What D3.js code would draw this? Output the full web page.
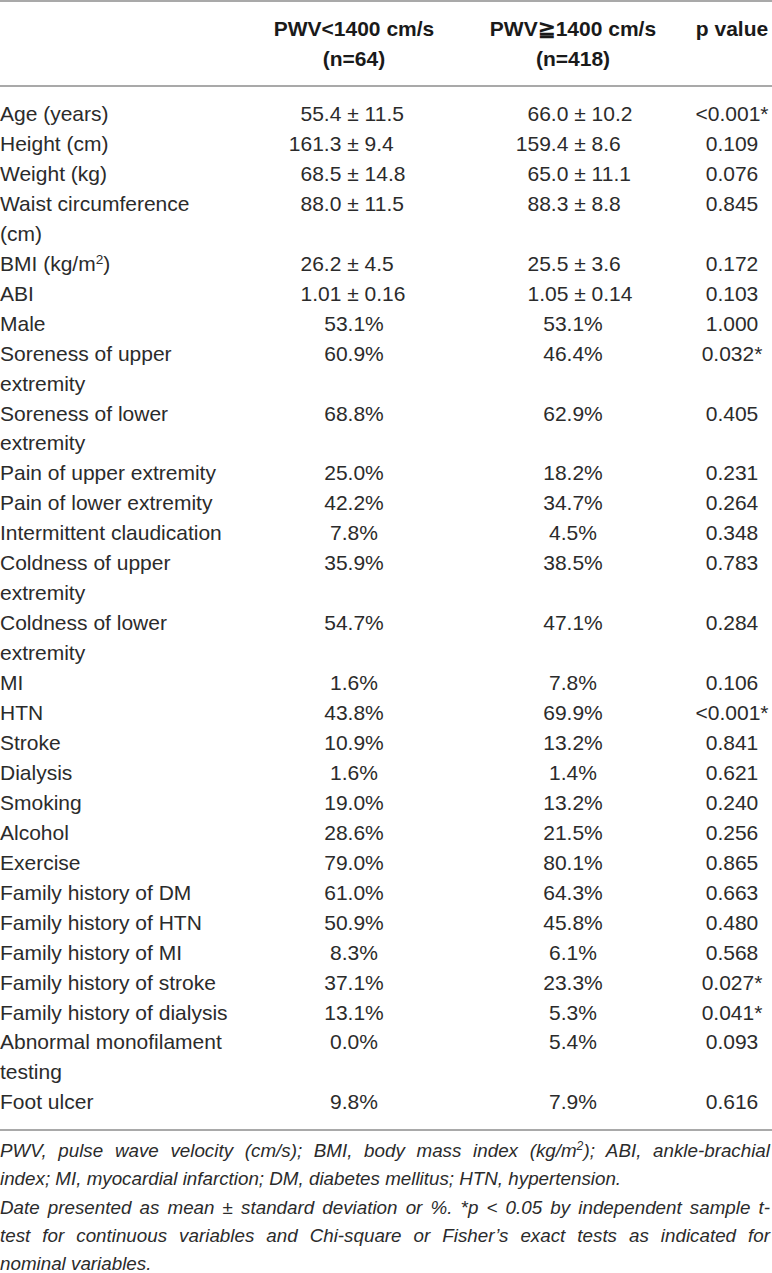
<!DOCTYPE html>
<html>
<head>
<meta charset="utf-8">
<script src="https://cdn.jsdelivr.net/npm/d3@7"></script>
<style>
  html, body { margin: 0; padding: 0; background: #fff; }
  svg text { font-family: "Liberation Sans", Arial, Helvetica, sans-serif; fill: #2b2b2b; }
</style>
</head>
<body>
<svg id="table"></svg>
<script>
// table content, "^x" marks a superscript character
var headers = [[""], ["PWV<1400 cm/s", "(n=64)"], ["PWV≧1400 cm/s", "(n=418)"], ["p value"]];

var labels = [
  "Age (years)", "Height (cm)", "Weight (kg)", "Waist circumference (cm)", "BMI (kg/m^2)", "ABI",
  "Male", "Soreness of upper extremity", "Soreness of lower extremity", "Pain of upper extremity",
  "Pain of lower extremity", "Intermittent claudication", "Coldness of upper extremity",
  "Coldness of lower extremity", "MI", "HTN", "Stroke", "Dialysis", "Smoking", "Alcohol", "Exercise",
  "Family history of DM", "Family history of HTN", "Family history of MI", "Family history of stroke",
  "Family history of dialysis", "Abnormal monofilament testing", "Foot ulcer"
];

var lowGroup = [
  "55.4 ± 11.5", "161.3 ± 9.4", "68.5 ± 14.8", "88.0 ± 11.5", "26.2 ± 4.5", "1.01 ± 0.16",
  "53.1%", "60.9%", "68.8%", "25.0%", "42.2%", "7.8%", "35.9%", "54.7%", "1.6%", "43.8%", "10.9%",
  "1.6%", "19.0%", "28.6%", "79.0%", "61.0%", "50.9%", "8.3%", "37.1%", "13.1%", "0.0%", "9.8%"
];

var highGroup = [
  "66.0 ± 10.2", "159.4 ± 8.6", "65.0 ± 11.1", "88.3 ± 8.8", "25.5 ± 3.6", "1.05 ± 0.14",
  "53.1%", "46.4%", "62.9%", "18.2%", "34.7%", "4.5%", "38.5%", "47.1%", "7.8%", "69.9%", "13.2%",
  "1.4%", "13.2%", "21.5%", "80.1%", "64.3%", "45.8%", "6.1%", "23.3%", "5.3%", "5.4%", "7.9%"
];

var pValues = [
  "<0.001*", "0.109", "0.076", "0.845", "0.172", "0.103", "1.000", "0.032*", "0.405", "0.231",
  "0.264", "0.348", "0.783", "0.284", "0.106", "<0.001*", "0.841", "0.621", "0.240", "0.256",
  "0.865", "0.663", "0.480", "0.568", "0.027*", "0.041*", "0.093", "0.616"
];

// footnote lines, true = justified
var noteLines = [
  "PWV, pulse wave velocity (cm/s); BMI, body mass index (kg/m^2); ABI, ankle-brachial",
  "index; MI, myocardial infarction; DM, diabetes mellitus; HTN, hypertension.",
  "Date presented as mean ± standard deviation or %. *p < 0.05 by independent sample t-",
  "test for continuous variables and Chi-square or Fisher’s exact tests as indicated for",
  "nominal variables."
];
var noteJustify = [true, false, true, true, false];

var width = 772, height = 1273;
var bodySize = 21, noteSize = 18.8;
var labelWrap = 232;

var svg = d3.select("#table")
  .attr("width", width)
  .attr("height", height);

// writes a string into a text node, turning "^x" into a superscript
function fillText(sel, str) {
  var parts = str.split(/(\^.)/);
  parts.forEach(function (p) {
    if (p === "") return;
    if (p[0] === "^") {
      sel.append("tspan").attr("baseline-shift", "super").style("font-size", "0.65em").text(p.slice(1));
    } else {
      sel.append("tspan").text(p);
    }
  });
}

// column centres, and where the ± sign sits in each column
var col = d3.scaleOrdinal().domain(["label", "low", "high", "p"]).range([0, 354, 573, 732]);
var pmX = d3.scaleOrdinal().domain(["low", "high"]).range([353, 580]);

// horizontal rules
var rules = [1, 86, 1130];
svg.selectAll(".rule")
  .data(rules)
  .enter().append("line")
  .attr("class", "rule")
  .attr("x1", 0).attr("x2", width)
  .attr("y1", d => d).attr("y2", d => d)
  .attr("stroke", "#a9a9a9")
  .attr("stroke-width", 2);

// header
var headY = d3.scaleLinear().domain([0, 1]).range([36, 66]);
var keys = ["label", "low", "high", "p"];
headers.forEach(function (lines, i) {
  lines.forEach(function (t, j) {
    if (!t) return;
    svg.append("text")
      .attr("x", col(keys[i]))
      .attr("y", headY(j))
      .attr("text-anchor", "middle")
      .style("font-size", bodySize + "px")
      .style("font-weight", "bold")
      .style("fill", "#1a1a1a")
      .text(t);
  });
});

// wrap the row labels to the first column width
var measure = svg.append("text").style("font-size", bodySize + "px").attr("visibility", "hidden");
function textWidth(s) {
  measure.selectAll("*").remove();
  measure.text(null);
  fillText(measure, s);
  return measure.node().getComputedTextLength();
}
var wrapped = labels.map(function (lab) {
  var words = lab.split(" "), lines = [], cur = "";
  words.forEach(function (w) {
    var test = cur ? cur + " " + w : w;
    if (cur && textWidth(test) > labelWrap) { lines.push(cur); cur = w; }
    else cur = test;
  });
  lines.push(cur);
  return lines;
});
measure.remove();

var totalLines = d3.sum(wrapped, d => d.length);
var lineY = d3.scaleLinear().domain([0, totalLines - 1]).range([121, 121 + (totalLines - 1) * 29.95]);

var start = 0;
var rows = labels.map(function (lab, i) {
  var r = { lines: wrapped[i], low: lowGroup[i], high: highGroup[i], p: pValues[i], line: start };
  start += wrapped[i].length;
  return r;
});

var g = svg.append("g").style("font-size", bodySize + "px");

rows.forEach(function (r) {
  r.lines.forEach(function (t, j) {
    var tx = g.append("text").attr("x", col("label")).attr("y", lineY(r.line + j));
    fillText(tx, t);
  });

  ["low", "high"].forEach(function (k) {
    var v = r[k];
    var tx = g.append("text").attr("y", lineY(r.line)).text(v);
    var at = v.indexOf("±");
    if (at < 0) {
      tx.attr("x", col(k)).attr("text-anchor", "middle");
    } else {
      var node = tx.node();
      var before = node.getSubStringLength(0, at);
      var pm = node.getSubStringLength(at, 1);
      tx.attr("x", pmX(k) - before - pm / 2);
    }
  });

  g.append("text")
    .attr("x", col("p"))
    .attr("y", lineY(r.line))
    .attr("text-anchor", "middle")
    .text(r.p);
});

// footnote, justified like the printed table
var noteY = d3.scaleLinear().domain([0, noteLines.length - 1]).range([1157, 1157 + (noteLines.length - 1) * 28.3]);
noteLines.forEach(function (t, i) {
  var tx = svg.append("text")
    .attr("x", 0)
    .attr("y", noteY(i))
    .style("font-size", noteSize + "px")
    .style("font-style", "italic");
  fillText(tx, t);
  if (noteJustify[i]) {
    var natural = tx.node().getComputedTextLength();
    var gaps = t.split(" ").length - 1;
    tx.style("word-spacing", ((width - 2 - natural) / gaps) + "px");
  }
});
</script>
</body>
</html>
